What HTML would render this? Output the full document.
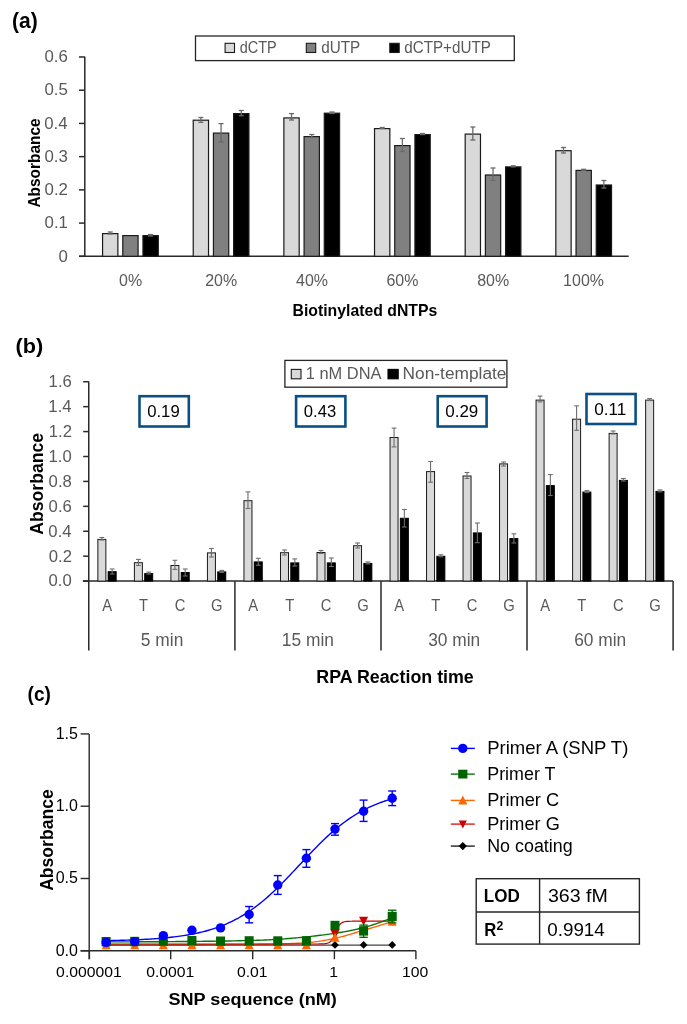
<!DOCTYPE html>
<html><head><meta charset="utf-8"><style>
html,body{margin:0;padding:0;background:#fff;}
svg{display:block;will-change:transform;}
text{font-family:"Liberation Sans", sans-serif;}
</style></head><body>
<svg width="687" height="1024" viewBox="0 0 687 1024">
<rect width="687" height="1024" fill="#fff"/>
<text x="12.05" y="28.33" font-size="21.56" fill="#000" font-weight="bold" textLength="25.69" lengthAdjust="spacingAndGlyphs">(a)</text>
<line x1="84.8" y1="56.8" x2="84.8" y2="256.3" stroke="#2a2a2a" stroke-width="1.5"/>
<line x1="79" y1="256.3" x2="84.8" y2="256.3" stroke="#2a2a2a" stroke-width="1.5"/>
<text x="58.4" y="261.55" font-size="15.82" fill="#595959" textLength="9.36" lengthAdjust="spacingAndGlyphs">0</text>
<line x1="79" y1="223.08" x2="84.8" y2="223.08" stroke="#2a2a2a" stroke-width="1.5"/>
<text x="44.52" y="228.33" font-size="15.82" fill="#595959" textLength="23.4" lengthAdjust="spacingAndGlyphs">0.1</text>
<line x1="79" y1="189.86" x2="84.8" y2="189.86" stroke="#2a2a2a" stroke-width="1.5"/>
<text x="44.55" y="195.11" font-size="15.82" fill="#595959" textLength="23.4" lengthAdjust="spacingAndGlyphs">0.2</text>
<line x1="79" y1="156.64000000000001" x2="84.8" y2="156.64000000000001" stroke="#2a2a2a" stroke-width="1.5"/>
<text x="44.44" y="161.89" font-size="15.82" fill="#595959" textLength="23.4" lengthAdjust="spacingAndGlyphs">0.3</text>
<line x1="79" y1="123.42000000000002" x2="84.8" y2="123.42000000000002" stroke="#2a2a2a" stroke-width="1.5"/>
<text x="44.2" y="128.67" font-size="15.82" fill="#595959" textLength="23.4" lengthAdjust="spacingAndGlyphs">0.4</text>
<line x1="79" y1="90.20000000000002" x2="84.8" y2="90.20000000000002" stroke="#2a2a2a" stroke-width="1.5"/>
<text x="44.41" y="95.45" font-size="15.82" fill="#595959" textLength="23.4" lengthAdjust="spacingAndGlyphs">0.5</text>
<line x1="79" y1="56.98000000000002" x2="84.8" y2="56.98000000000002" stroke="#2a2a2a" stroke-width="1.5"/>
<text x="44.44" y="62.23" font-size="15.82" fill="#595959" textLength="23.4" lengthAdjust="spacingAndGlyphs">0.6</text>
<line x1="79" y1="256.3" x2="628.7" y2="256.3" stroke="#2a2a2a" stroke-width="1.5"/>
<text x="39.74" y="207.58" font-size="16.75" fill="#000" font-weight="bold" textLength="89.31" lengthAdjust="spacingAndGlyphs" transform="rotate(-90 39.74 207.58)">Absorbance</text>
<rect x="102.57" y="233.60" width="15.30" height="22.70" fill="#d9d9d9" stroke="#1a1a1a" stroke-width="1.2"/>
<rect x="122.78" y="235.60" width="15.30" height="20.70" fill="#808080" stroke="#1a1a1a" stroke-width="1.2"/>
<rect x="142.97" y="235.60" width="15.30" height="20.70" fill="#000" stroke="#1a1a1a" stroke-width="1.2"/>
<line x1="110.225" y1="232" x2="110.225" y2="234" stroke="#6a6a6a" stroke-width="1.3"/>
<line x1="107.725" y1="232" x2="112.725" y2="232" stroke="#6a6a6a" stroke-width="1.3"/>
<line x1="107.725" y1="234" x2="112.725" y2="234" stroke="#6a6a6a" stroke-width="1.3"/>
<line x1="150.625" y1="234.5" x2="150.625" y2="236" stroke="#6a6a6a" stroke-width="1.3"/>
<line x1="148.125" y1="234.5" x2="153.125" y2="234.5" stroke="#6a6a6a" stroke-width="1.3"/>
<line x1="148.125" y1="236" x2="153.125" y2="236" stroke="#6a6a6a" stroke-width="1.3"/>
<text x="119.05" y="285.74" font-size="16.67" fill="#595959" textLength="23.09" lengthAdjust="spacingAndGlyphs">0%</text>
<rect x="193.23" y="120.20" width="15.30" height="136.10" fill="#d9d9d9" stroke="#1a1a1a" stroke-width="1.2"/>
<rect x="213.43" y="133.10" width="15.30" height="123.20" fill="#808080" stroke="#1a1a1a" stroke-width="1.2"/>
<rect x="233.63" y="113.60" width="15.30" height="142.70" fill="#000" stroke="#1a1a1a" stroke-width="1.2"/>
<line x1="200.87500000000006" y1="117.5" x2="200.87500000000006" y2="122.3" stroke="#6a6a6a" stroke-width="1.3"/>
<line x1="198.37500000000006" y1="117.5" x2="203.37500000000006" y2="117.5" stroke="#6a6a6a" stroke-width="1.3"/>
<line x1="198.37500000000006" y1="122.3" x2="203.37500000000006" y2="122.3" stroke="#6a6a6a" stroke-width="1.3"/>
<line x1="221.07500000000005" y1="123.6" x2="221.07500000000005" y2="142" stroke="#6a6a6a" stroke-width="1.3"/>
<line x1="218.57500000000005" y1="123.6" x2="223.57500000000005" y2="123.6" stroke="#6a6a6a" stroke-width="1.3"/>
<line x1="218.57500000000005" y1="142" x2="223.57500000000005" y2="142" stroke="#6a6a6a" stroke-width="1.3"/>
<line x1="241.27500000000003" y1="110.5" x2="241.27500000000003" y2="115.7" stroke="#6a6a6a" stroke-width="1.3"/>
<line x1="238.77500000000003" y1="110.5" x2="243.77500000000003" y2="110.5" stroke="#6a6a6a" stroke-width="1.3"/>
<line x1="238.77500000000003" y1="115.7" x2="243.77500000000003" y2="115.7" stroke="#6a6a6a" stroke-width="1.3"/>
<text x="205.17" y="285.74" font-size="16.67" fill="#595959" textLength="31.97" lengthAdjust="spacingAndGlyphs">20%</text>
<rect x="283.88" y="117.90" width="15.30" height="138.40" fill="#d9d9d9" stroke="#1a1a1a" stroke-width="1.2"/>
<rect x="304.08" y="136.60" width="15.30" height="119.70" fill="#808080" stroke="#1a1a1a" stroke-width="1.2"/>
<rect x="324.28" y="113.20" width="15.30" height="143.10" fill="#000" stroke="#1a1a1a" stroke-width="1.2"/>
<line x1="291.5250000000001" y1="113.6" x2="291.5250000000001" y2="120" stroke="#6a6a6a" stroke-width="1.3"/>
<line x1="289.0250000000001" y1="113.6" x2="294.0250000000001" y2="113.6" stroke="#6a6a6a" stroke-width="1.3"/>
<line x1="289.0250000000001" y1="120" x2="294.0250000000001" y2="120" stroke="#6a6a6a" stroke-width="1.3"/>
<line x1="311.7250000000001" y1="134.5" x2="311.7250000000001" y2="137.5" stroke="#6a6a6a" stroke-width="1.3"/>
<line x1="309.2250000000001" y1="134.5" x2="314.2250000000001" y2="134.5" stroke="#6a6a6a" stroke-width="1.3"/>
<line x1="309.2250000000001" y1="137.5" x2="314.2250000000001" y2="137.5" stroke="#6a6a6a" stroke-width="1.3"/>
<line x1="331.92500000000007" y1="112" x2="331.92500000000007" y2="113.5" stroke="#6a6a6a" stroke-width="1.3"/>
<line x1="329.42500000000007" y1="112" x2="334.42500000000007" y2="112" stroke="#6a6a6a" stroke-width="1.3"/>
<line x1="329.42500000000007" y1="113.5" x2="334.42500000000007" y2="113.5" stroke="#6a6a6a" stroke-width="1.3"/>
<text x="296.04" y="285.74" font-size="16.67" fill="#595959" textLength="31.97" lengthAdjust="spacingAndGlyphs">40%</text>
<rect x="374.53" y="128.60" width="15.30" height="127.70" fill="#d9d9d9" stroke="#1a1a1a" stroke-width="1.2"/>
<rect x="394.73" y="145.60" width="15.30" height="110.70" fill="#808080" stroke="#1a1a1a" stroke-width="1.2"/>
<rect x="414.93" y="134.60" width="15.30" height="121.70" fill="#000" stroke="#1a1a1a" stroke-width="1.2"/>
<line x1="382.1750000000001" y1="127.5" x2="382.1750000000001" y2="128.5" stroke="#6a6a6a" stroke-width="1.3"/>
<line x1="379.6750000000001" y1="127.5" x2="384.6750000000001" y2="127.5" stroke="#6a6a6a" stroke-width="1.3"/>
<line x1="379.6750000000001" y1="128.5" x2="384.6750000000001" y2="128.5" stroke="#6a6a6a" stroke-width="1.3"/>
<line x1="402.3750000000001" y1="138.5" x2="402.3750000000001" y2="151.5" stroke="#6a6a6a" stroke-width="1.3"/>
<line x1="399.8750000000001" y1="138.5" x2="404.8750000000001" y2="138.5" stroke="#6a6a6a" stroke-width="1.3"/>
<line x1="399.8750000000001" y1="151.5" x2="404.8750000000001" y2="151.5" stroke="#6a6a6a" stroke-width="1.3"/>
<line x1="422.5750000000001" y1="133.5" x2="422.5750000000001" y2="134.5" stroke="#6a6a6a" stroke-width="1.3"/>
<line x1="420.0750000000001" y1="133.5" x2="425.0750000000001" y2="133.5" stroke="#6a6a6a" stroke-width="1.3"/>
<line x1="420.0750000000001" y1="134.5" x2="425.0750000000001" y2="134.5" stroke="#6a6a6a" stroke-width="1.3"/>
<text x="386.47" y="285.74" font-size="16.67" fill="#595959" textLength="31.97" lengthAdjust="spacingAndGlyphs">60%</text>
<rect x="465.18" y="134.10" width="15.30" height="122.20" fill="#d9d9d9" stroke="#1a1a1a" stroke-width="1.2"/>
<rect x="485.38" y="175.00" width="15.30" height="81.30" fill="#808080" stroke="#1a1a1a" stroke-width="1.2"/>
<rect x="505.58" y="166.90" width="15.30" height="89.40" fill="#000" stroke="#1a1a1a" stroke-width="1.2"/>
<line x1="472.8250000000001" y1="127" x2="472.8250000000001" y2="140" stroke="#6a6a6a" stroke-width="1.3"/>
<line x1="470.3250000000001" y1="127" x2="475.3250000000001" y2="127" stroke="#6a6a6a" stroke-width="1.3"/>
<line x1="470.3250000000001" y1="140" x2="475.3250000000001" y2="140" stroke="#6a6a6a" stroke-width="1.3"/>
<line x1="493.0250000000001" y1="168" x2="493.0250000000001" y2="180.5" stroke="#6a6a6a" stroke-width="1.3"/>
<line x1="490.5250000000001" y1="168" x2="495.5250000000001" y2="168" stroke="#6a6a6a" stroke-width="1.3"/>
<line x1="490.5250000000001" y1="180.5" x2="495.5250000000001" y2="180.5" stroke="#6a6a6a" stroke-width="1.3"/>
<line x1="513.225" y1="165.8" x2="513.225" y2="166.8" stroke="#6a6a6a" stroke-width="1.3"/>
<line x1="510.725" y1="165.8" x2="515.725" y2="165.8" stroke="#6a6a6a" stroke-width="1.3"/>
<line x1="510.725" y1="166.8" x2="515.725" y2="166.8" stroke="#6a6a6a" stroke-width="1.3"/>
<text x="477.18" y="285.74" font-size="16.67" fill="#595959" textLength="31.97" lengthAdjust="spacingAndGlyphs">80%</text>
<rect x="555.83" y="150.70" width="15.30" height="105.60" fill="#d9d9d9" stroke="#1a1a1a" stroke-width="1.2"/>
<rect x="576.03" y="170.40" width="15.30" height="85.90" fill="#808080" stroke="#1a1a1a" stroke-width="1.2"/>
<rect x="596.23" y="185.00" width="15.30" height="71.30" fill="#000" stroke="#1a1a1a" stroke-width="1.2"/>
<line x1="563.475" y1="147.5" x2="563.475" y2="153" stroke="#6a6a6a" stroke-width="1.3"/>
<line x1="560.975" y1="147.5" x2="565.975" y2="147.5" stroke="#6a6a6a" stroke-width="1.3"/>
<line x1="560.975" y1="153" x2="565.975" y2="153" stroke="#6a6a6a" stroke-width="1.3"/>
<line x1="583.6750000000001" y1="169.3" x2="583.6750000000001" y2="170.3" stroke="#6a6a6a" stroke-width="1.3"/>
<line x1="581.1750000000001" y1="169.3" x2="586.1750000000001" y2="169.3" stroke="#6a6a6a" stroke-width="1.3"/>
<line x1="581.1750000000001" y1="170.3" x2="586.1750000000001" y2="170.3" stroke="#6a6a6a" stroke-width="1.3"/>
<line x1="603.8750000000001" y1="180.5" x2="603.8750000000001" y2="188" stroke="#6a6a6a" stroke-width="1.3"/>
<line x1="601.3750000000001" y1="180.5" x2="606.3750000000001" y2="180.5" stroke="#6a6a6a" stroke-width="1.3"/>
<line x1="601.3750000000001" y1="188" x2="606.3750000000001" y2="188" stroke="#6a6a6a" stroke-width="1.3"/>
<text x="563.12" y="285.74" font-size="16.67" fill="#595959" textLength="40.86" lengthAdjust="spacingAndGlyphs">100%</text>
<text x="292.54" y="316.41" font-size="15.88" fill="#000" font-weight="bold" textLength="144.7" lengthAdjust="spacingAndGlyphs">Biotinylated dNTPs</text>
<rect x="195.50" y="36.00" width="318.80" height="24.60" fill="#fff" stroke="#262626" stroke-width="1.3"/>
<rect x="225.10" y="43.30" width="9.40" height="9.20" fill="#d9d9d9" stroke="#1a1a1a" stroke-width="1.1"/>
<text x="239.69" y="53.34" font-size="16.48" fill="#595959" textLength="36.97" lengthAdjust="spacingAndGlyphs">dCTP</text>
<rect x="306.30" y="43.30" width="9.40" height="9.20" fill="#808080" stroke="#1a1a1a" stroke-width="1.1"/>
<text x="321.16" y="53.34" font-size="16.48" fill="#595959" textLength="39.05" lengthAdjust="spacingAndGlyphs">dUTP</text>
<rect x="389.80" y="43.30" width="9.40" height="9.20" fill="#000" stroke="#1a1a1a" stroke-width="1.1"/>
<text x="404.26" y="53.34" font-size="16.48" fill="#595959" textLength="86.54" lengthAdjust="spacingAndGlyphs">dCTP+dUTP</text>
<text x="15.62" y="352.77" font-size="20.38" fill="#000" font-weight="bold" textLength="27.66" lengthAdjust="spacingAndGlyphs">(b)</text>
<line x1="88.75" y1="381.6" x2="88.75" y2="650.4" stroke="#2a2a2a" stroke-width="1.5"/>
<line x1="83.2" y1="581.1" x2="88.75" y2="581.1" stroke="#2a2a2a" stroke-width="1.5"/>
<text x="48.55" y="586.44" font-size="16.24" fill="#595959" textLength="23.2" lengthAdjust="spacingAndGlyphs">0.0</text>
<line x1="83.2" y1="556.1800000000001" x2="88.75" y2="556.1800000000001" stroke="#2a2a2a" stroke-width="1.5"/>
<text x="48.74" y="561.52" font-size="16.24" fill="#595959" textLength="23.2" lengthAdjust="spacingAndGlyphs">0.2</text>
<line x1="83.2" y1="531.26" x2="88.75" y2="531.26" stroke="#2a2a2a" stroke-width="1.5"/>
<text x="48.38" y="536.6" font-size="16.24" fill="#595959" textLength="23.2" lengthAdjust="spacingAndGlyphs">0.4</text>
<line x1="83.2" y1="506.34000000000003" x2="88.75" y2="506.34000000000003" stroke="#2a2a2a" stroke-width="1.5"/>
<text x="48.63" y="511.68" font-size="16.24" fill="#595959" textLength="23.2" lengthAdjust="spacingAndGlyphs">0.6</text>
<line x1="83.2" y1="481.42" x2="88.75" y2="481.42" stroke="#2a2a2a" stroke-width="1.5"/>
<text x="48.62" y="486.76" font-size="16.24" fill="#595959" textLength="23.2" lengthAdjust="spacingAndGlyphs">0.8</text>
<line x1="83.2" y1="456.5" x2="88.75" y2="456.5" stroke="#2a2a2a" stroke-width="1.5"/>
<text x="48.55" y="461.84" font-size="16.24" fill="#595959" textLength="23.2" lengthAdjust="spacingAndGlyphs">1.0</text>
<line x1="83.2" y1="431.58000000000004" x2="88.75" y2="431.58000000000004" stroke="#2a2a2a" stroke-width="1.5"/>
<text x="48.74" y="436.92" font-size="16.24" fill="#595959" textLength="23.2" lengthAdjust="spacingAndGlyphs">1.2</text>
<line x1="83.2" y1="406.66" x2="88.75" y2="406.66" stroke="#2a2a2a" stroke-width="1.5"/>
<text x="48.38" y="412.0" font-size="16.24" fill="#595959" textLength="23.2" lengthAdjust="spacingAndGlyphs">1.4</text>
<line x1="83.2" y1="381.74" x2="88.75" y2="381.74" stroke="#2a2a2a" stroke-width="1.5"/>
<text x="48.63" y="387.08" font-size="16.24" fill="#595959" textLength="23.2" lengthAdjust="spacingAndGlyphs">1.6</text>
<line x1="82.8" y1="581.1" x2="673.1" y2="581.1" stroke="#2a2a2a" stroke-width="1.5"/>
<line x1="234.9" y1="581.1" x2="234.9" y2="650.4" stroke="#2a2a2a" stroke-width="1.5"/>
<line x1="381" y1="581.1" x2="381" y2="650.4" stroke="#2a2a2a" stroke-width="1.5"/>
<line x1="527" y1="581.1" x2="527" y2="650.4" stroke="#2a2a2a" stroke-width="1.5"/>
<line x1="673.1" y1="581.1" x2="673.1" y2="650.4" stroke="#2a2a2a" stroke-width="1.5"/>
<text x="42.71" y="534.74" font-size="19.2" fill="#000" font-weight="bold" textLength="101.84" lengthAdjust="spacingAndGlyphs" transform="rotate(-90 42.71 534.74)">Absorbance</text>
<rect x="97.86" y="539.40" width="8.00" height="41.70" fill="#d9d9d9" stroke="#1a1a1a" stroke-width="1.0"/>
<rect x="108.16" y="571.70" width="8.00" height="9.40" fill="#000" stroke="#000" stroke-width="1.0"/>
<line x1="101.8625" y1="537.5" x2="101.8625" y2="540" stroke="#6e6e6e" stroke-width="1.1"/>
<line x1="99.46249999999999" y1="537.5" x2="104.2625" y2="537.5" stroke="#6e6e6e" stroke-width="1.1"/>
<line x1="99.46249999999999" y1="540" x2="104.2625" y2="540" stroke="#6e6e6e" stroke-width="1.1"/>
<line x1="112.1625" y1="569" x2="112.1625" y2="574" stroke="#6e6e6e" stroke-width="1.1"/>
<line x1="109.76249999999999" y1="569" x2="114.5625" y2="569" stroke="#6e6e6e" stroke-width="1.1"/>
<line x1="109.76249999999999" y1="574" x2="114.5625" y2="574" stroke="#6e6e6e" stroke-width="1.1"/>
<text x="102.13" y="610.5" font-size="15.7" fill="#595959" textLength="9.86" lengthAdjust="spacingAndGlyphs">A</text>
<rect x="134.39" y="562.70" width="8.00" height="18.40" fill="#d9d9d9" stroke="#1a1a1a" stroke-width="1.0"/>
<rect x="144.69" y="573.60" width="8.00" height="7.50" fill="#000" stroke="#000" stroke-width="1.0"/>
<line x1="138.38750000000002" y1="559.4" x2="138.38750000000002" y2="565.5" stroke="#6e6e6e" stroke-width="1.1"/>
<line x1="135.9875" y1="559.4" x2="140.78750000000002" y2="559.4" stroke="#6e6e6e" stroke-width="1.1"/>
<line x1="135.9875" y1="565.5" x2="140.78750000000002" y2="565.5" stroke="#6e6e6e" stroke-width="1.1"/>
<line x1="148.6875" y1="572.1" x2="148.6875" y2="574.1" stroke="#6e6e6e" stroke-width="1.1"/>
<line x1="146.2875" y1="572.1" x2="151.0875" y2="572.1" stroke="#6e6e6e" stroke-width="1.1"/>
<line x1="146.2875" y1="574.1" x2="151.0875" y2="574.1" stroke="#6e6e6e" stroke-width="1.1"/>
<text x="139.08" y="610.5" font-size="15.7" fill="#595959" textLength="9.03" lengthAdjust="spacingAndGlyphs">T</text>
<rect x="170.91" y="565.50" width="8.00" height="15.60" fill="#d9d9d9" stroke="#1a1a1a" stroke-width="1.0"/>
<rect x="181.21" y="572.50" width="8.00" height="8.60" fill="#000" stroke="#000" stroke-width="1.0"/>
<line x1="174.91250000000002" y1="560.3" x2="174.91250000000002" y2="569.4" stroke="#6e6e6e" stroke-width="1.1"/>
<line x1="172.51250000000002" y1="560.3" x2="177.31250000000003" y2="560.3" stroke="#6e6e6e" stroke-width="1.1"/>
<line x1="172.51250000000002" y1="569.4" x2="177.31250000000003" y2="569.4" stroke="#6e6e6e" stroke-width="1.1"/>
<line x1="185.2125" y1="569" x2="185.2125" y2="576" stroke="#6e6e6e" stroke-width="1.1"/>
<line x1="182.8125" y1="569" x2="187.6125" y2="569" stroke="#6e6e6e" stroke-width="1.1"/>
<line x1="182.8125" y1="576" x2="187.6125" y2="576" stroke="#6e6e6e" stroke-width="1.1"/>
<text x="174.68" y="610.5" font-size="15.7" fill="#595959" textLength="10.67" lengthAdjust="spacingAndGlyphs">C</text>
<rect x="207.44" y="552.90" width="8.00" height="28.20" fill="#d9d9d9" stroke="#1a1a1a" stroke-width="1.0"/>
<rect x="217.74" y="571.90" width="8.00" height="9.20" fill="#000" stroke="#000" stroke-width="1.0"/>
<line x1="211.43750000000003" y1="548.5" x2="211.43750000000003" y2="557" stroke="#6e6e6e" stroke-width="1.1"/>
<line x1="209.03750000000002" y1="548.5" x2="213.83750000000003" y2="548.5" stroke="#6e6e6e" stroke-width="1.1"/>
<line x1="209.03750000000002" y1="557" x2="213.83750000000003" y2="557" stroke="#6e6e6e" stroke-width="1.1"/>
<line x1="221.7375" y1="570.4" x2="221.7375" y2="572.4" stroke="#6e6e6e" stroke-width="1.1"/>
<line x1="219.3375" y1="570.4" x2="224.13750000000002" y2="570.4" stroke="#6e6e6e" stroke-width="1.1"/>
<line x1="219.3375" y1="572.4" x2="224.13750000000002" y2="572.4" stroke="#6e6e6e" stroke-width="1.1"/>
<text x="211.07" y="610.5" font-size="15.7" fill="#595959" textLength="11.5" lengthAdjust="spacingAndGlyphs">G</text>
<text x="140.86" y="645.53" font-size="17.57" fill="#595959" textLength="42.42" lengthAdjust="spacingAndGlyphs">5 min</text>
<rect x="243.96" y="500.70" width="8.00" height="80.40" fill="#d9d9d9" stroke="#1a1a1a" stroke-width="1.0"/>
<rect x="254.26" y="561.90" width="8.00" height="19.20" fill="#000" stroke="#000" stroke-width="1.0"/>
<line x1="247.9625" y1="491.9" x2="247.9625" y2="508.5" stroke="#6e6e6e" stroke-width="1.1"/>
<line x1="245.5625" y1="491.9" x2="250.3625" y2="491.9" stroke="#6e6e6e" stroke-width="1.1"/>
<line x1="245.5625" y1="508.5" x2="250.3625" y2="508.5" stroke="#6e6e6e" stroke-width="1.1"/>
<line x1="258.2625" y1="558.3" x2="258.2625" y2="565.3" stroke="#6e6e6e" stroke-width="1.1"/>
<line x1="255.86249999999998" y1="558.3" x2="260.66249999999997" y2="558.3" stroke="#6e6e6e" stroke-width="1.1"/>
<line x1="255.86249999999998" y1="565.3" x2="260.66249999999997" y2="565.3" stroke="#6e6e6e" stroke-width="1.1"/>
<text x="248.23" y="610.5" font-size="15.7" fill="#595959" textLength="9.86" lengthAdjust="spacingAndGlyphs">A</text>
<rect x="280.49" y="552.70" width="8.00" height="28.40" fill="#d9d9d9" stroke="#1a1a1a" stroke-width="1.0"/>
<rect x="290.79" y="562.90" width="8.00" height="18.20" fill="#000" stroke="#000" stroke-width="1.0"/>
<line x1="284.4875" y1="550" x2="284.4875" y2="555" stroke="#6e6e6e" stroke-width="1.1"/>
<line x1="282.08750000000003" y1="550" x2="286.8875" y2="550" stroke="#6e6e6e" stroke-width="1.1"/>
<line x1="282.08750000000003" y1="555" x2="286.8875" y2="555" stroke="#6e6e6e" stroke-width="1.1"/>
<line x1="294.7875" y1="558.9" x2="294.7875" y2="566" stroke="#6e6e6e" stroke-width="1.1"/>
<line x1="292.38750000000005" y1="558.9" x2="297.1875" y2="558.9" stroke="#6e6e6e" stroke-width="1.1"/>
<line x1="292.38750000000005" y1="566" x2="297.1875" y2="566" stroke="#6e6e6e" stroke-width="1.1"/>
<text x="285.18" y="610.5" font-size="15.7" fill="#595959" textLength="9.03" lengthAdjust="spacingAndGlyphs">T</text>
<rect x="317.01" y="552.50" width="8.00" height="28.60" fill="#d9d9d9" stroke="#1a1a1a" stroke-width="1.0"/>
<rect x="327.31" y="562.90" width="8.00" height="18.20" fill="#000" stroke="#000" stroke-width="1.0"/>
<line x1="321.0125" y1="550.5" x2="321.0125" y2="553.5" stroke="#6e6e6e" stroke-width="1.1"/>
<line x1="318.6125" y1="550.5" x2="323.41249999999997" y2="550.5" stroke="#6e6e6e" stroke-width="1.1"/>
<line x1="318.6125" y1="553.5" x2="323.41249999999997" y2="553.5" stroke="#6e6e6e" stroke-width="1.1"/>
<line x1="331.3125" y1="558" x2="331.3125" y2="566.5" stroke="#6e6e6e" stroke-width="1.1"/>
<line x1="328.9125" y1="558" x2="333.7125" y2="558" stroke="#6e6e6e" stroke-width="1.1"/>
<line x1="328.9125" y1="566.5" x2="333.7125" y2="566.5" stroke="#6e6e6e" stroke-width="1.1"/>
<text x="320.78" y="610.5" font-size="15.7" fill="#595959" textLength="10.67" lengthAdjust="spacingAndGlyphs">C</text>
<rect x="353.54" y="545.70" width="8.00" height="35.40" fill="#d9d9d9" stroke="#1a1a1a" stroke-width="1.0"/>
<rect x="363.84" y="563.40" width="8.00" height="17.70" fill="#000" stroke="#000" stroke-width="1.0"/>
<line x1="357.5375" y1="543" x2="357.5375" y2="548" stroke="#6e6e6e" stroke-width="1.1"/>
<line x1="355.13750000000005" y1="543" x2="359.9375" y2="543" stroke="#6e6e6e" stroke-width="1.1"/>
<line x1="355.13750000000005" y1="548" x2="359.9375" y2="548" stroke="#6e6e6e" stroke-width="1.1"/>
<line x1="367.83750000000003" y1="561.9" x2="367.83750000000003" y2="563.9" stroke="#6e6e6e" stroke-width="1.1"/>
<line x1="365.43750000000006" y1="561.9" x2="370.2375" y2="561.9" stroke="#6e6e6e" stroke-width="1.1"/>
<line x1="365.43750000000006" y1="563.9" x2="370.2375" y2="563.9" stroke="#6e6e6e" stroke-width="1.1"/>
<text x="357.17" y="610.5" font-size="15.7" fill="#595959" textLength="11.5" lengthAdjust="spacingAndGlyphs">G</text>
<text x="281.82" y="645.53" font-size="17.57" fill="#595959" textLength="52.07" lengthAdjust="spacingAndGlyphs">15 min</text>
<rect x="390.05" y="437.50" width="8.00" height="143.60" fill="#d9d9d9" stroke="#1a1a1a" stroke-width="1.0"/>
<rect x="400.35" y="518.30" width="8.00" height="62.80" fill="#000" stroke="#000" stroke-width="1.0"/>
<line x1="394.05" y1="428.1" x2="394.05" y2="446.9" stroke="#6e6e6e" stroke-width="1.1"/>
<line x1="391.65000000000003" y1="428.1" x2="396.45" y2="428.1" stroke="#6e6e6e" stroke-width="1.1"/>
<line x1="391.65000000000003" y1="446.9" x2="396.45" y2="446.9" stroke="#6e6e6e" stroke-width="1.1"/>
<line x1="404.35" y1="509.5" x2="404.35" y2="527" stroke="#6e6e6e" stroke-width="1.1"/>
<line x1="401.95000000000005" y1="509.5" x2="406.75" y2="509.5" stroke="#6e6e6e" stroke-width="1.1"/>
<line x1="401.95000000000005" y1="527" x2="406.75" y2="527" stroke="#6e6e6e" stroke-width="1.1"/>
<text x="394.32" y="610.5" font-size="15.7" fill="#595959" textLength="9.86" lengthAdjust="spacingAndGlyphs">A</text>
<rect x="426.55" y="471.60" width="8.00" height="109.50" fill="#d9d9d9" stroke="#1a1a1a" stroke-width="1.0"/>
<rect x="436.85" y="556.30" width="8.00" height="24.80" fill="#000" stroke="#000" stroke-width="1.0"/>
<line x1="430.55" y1="461.5" x2="430.55" y2="482.2" stroke="#6e6e6e" stroke-width="1.1"/>
<line x1="428.15000000000003" y1="461.5" x2="432.95" y2="461.5" stroke="#6e6e6e" stroke-width="1.1"/>
<line x1="428.15000000000003" y1="482.2" x2="432.95" y2="482.2" stroke="#6e6e6e" stroke-width="1.1"/>
<line x1="440.85" y1="554.8" x2="440.85" y2="556.8" stroke="#6e6e6e" stroke-width="1.1"/>
<line x1="438.45000000000005" y1="554.8" x2="443.25" y2="554.8" stroke="#6e6e6e" stroke-width="1.1"/>
<line x1="438.45000000000005" y1="556.8" x2="443.25" y2="556.8" stroke="#6e6e6e" stroke-width="1.1"/>
<text x="431.24" y="610.5" font-size="15.7" fill="#595959" textLength="9.03" lengthAdjust="spacingAndGlyphs">T</text>
<rect x="463.05" y="476.00" width="8.00" height="105.10" fill="#d9d9d9" stroke="#1a1a1a" stroke-width="1.0"/>
<rect x="473.35" y="532.90" width="8.00" height="48.20" fill="#000" stroke="#000" stroke-width="1.0"/>
<line x1="467.05" y1="472.5" x2="467.05" y2="478.5" stroke="#6e6e6e" stroke-width="1.1"/>
<line x1="464.65000000000003" y1="472.5" x2="469.45" y2="472.5" stroke="#6e6e6e" stroke-width="1.1"/>
<line x1="464.65000000000003" y1="478.5" x2="469.45" y2="478.5" stroke="#6e6e6e" stroke-width="1.1"/>
<line x1="477.35" y1="523" x2="477.35" y2="542.7" stroke="#6e6e6e" stroke-width="1.1"/>
<line x1="474.95000000000005" y1="523" x2="479.75" y2="523" stroke="#6e6e6e" stroke-width="1.1"/>
<line x1="474.95000000000005" y1="542.7" x2="479.75" y2="542.7" stroke="#6e6e6e" stroke-width="1.1"/>
<text x="466.82" y="610.5" font-size="15.7" fill="#595959" textLength="10.67" lengthAdjust="spacingAndGlyphs">C</text>
<rect x="499.55" y="463.90" width="8.00" height="117.20" fill="#d9d9d9" stroke="#1a1a1a" stroke-width="1.0"/>
<rect x="509.85" y="538.60" width="8.00" height="42.50" fill="#000" stroke="#000" stroke-width="1.0"/>
<line x1="503.55" y1="462" x2="503.55" y2="466" stroke="#6e6e6e" stroke-width="1.1"/>
<line x1="501.15000000000003" y1="462" x2="505.95" y2="462" stroke="#6e6e6e" stroke-width="1.1"/>
<line x1="501.15000000000003" y1="466" x2="505.95" y2="466" stroke="#6e6e6e" stroke-width="1.1"/>
<line x1="513.85" y1="533.8" x2="513.85" y2="543" stroke="#6e6e6e" stroke-width="1.1"/>
<line x1="511.45000000000005" y1="533.8" x2="516.25" y2="533.8" stroke="#6e6e6e" stroke-width="1.1"/>
<line x1="511.45000000000005" y1="543" x2="516.25" y2="543" stroke="#6e6e6e" stroke-width="1.1"/>
<text x="503.18" y="610.5" font-size="15.7" fill="#595959" textLength="11.5" lengthAdjust="spacingAndGlyphs">G</text>
<text x="428.2" y="645.53" font-size="17.57" fill="#595959" textLength="52.07" lengthAdjust="spacingAndGlyphs">30 min</text>
<rect x="536.06" y="400.10" width="8.00" height="181.00" fill="#d9d9d9" stroke="#1a1a1a" stroke-width="1.0"/>
<rect x="546.36" y="485.60" width="8.00" height="95.50" fill="#000" stroke="#000" stroke-width="1.0"/>
<line x1="540.0625" y1="396.1" x2="540.0625" y2="401.9" stroke="#6e6e6e" stroke-width="1.1"/>
<line x1="537.6625" y1="396.1" x2="542.4625" y2="396.1" stroke="#6e6e6e" stroke-width="1.1"/>
<line x1="537.6625" y1="401.9" x2="542.4625" y2="401.9" stroke="#6e6e6e" stroke-width="1.1"/>
<line x1="550.3625000000001" y1="474.6" x2="550.3625000000001" y2="495.5" stroke="#6e6e6e" stroke-width="1.1"/>
<line x1="547.9625000000001" y1="474.6" x2="552.7625" y2="474.6" stroke="#6e6e6e" stroke-width="1.1"/>
<line x1="547.9625000000001" y1="495.5" x2="552.7625" y2="495.5" stroke="#6e6e6e" stroke-width="1.1"/>
<text x="540.33" y="610.5" font-size="15.7" fill="#595959" textLength="9.86" lengthAdjust="spacingAndGlyphs">A</text>
<rect x="572.59" y="419.20" width="8.00" height="161.90" fill="#d9d9d9" stroke="#1a1a1a" stroke-width="1.0"/>
<rect x="582.89" y="492.10" width="8.00" height="89.00" fill="#000" stroke="#000" stroke-width="1.0"/>
<line x1="576.5875" y1="405.9" x2="576.5875" y2="430.3" stroke="#6e6e6e" stroke-width="1.1"/>
<line x1="574.1875" y1="405.9" x2="578.9875" y2="405.9" stroke="#6e6e6e" stroke-width="1.1"/>
<line x1="574.1875" y1="430.3" x2="578.9875" y2="430.3" stroke="#6e6e6e" stroke-width="1.1"/>
<line x1="586.8875" y1="490.6" x2="586.8875" y2="492.6" stroke="#6e6e6e" stroke-width="1.1"/>
<line x1="584.4875000000001" y1="490.6" x2="589.2875" y2="490.6" stroke="#6e6e6e" stroke-width="1.1"/>
<line x1="584.4875000000001" y1="492.6" x2="589.2875" y2="492.6" stroke="#6e6e6e" stroke-width="1.1"/>
<text x="577.28" y="610.5" font-size="15.7" fill="#595959" textLength="9.03" lengthAdjust="spacingAndGlyphs">T</text>
<rect x="609.11" y="433.40" width="8.00" height="147.70" fill="#d9d9d9" stroke="#1a1a1a" stroke-width="1.0"/>
<rect x="619.41" y="480.40" width="8.00" height="100.70" fill="#000" stroke="#000" stroke-width="1.0"/>
<line x1="613.1125" y1="431" x2="613.1125" y2="434" stroke="#6e6e6e" stroke-width="1.1"/>
<line x1="610.7125" y1="431" x2="615.5124999999999" y2="431" stroke="#6e6e6e" stroke-width="1.1"/>
<line x1="610.7125" y1="434" x2="615.5124999999999" y2="434" stroke="#6e6e6e" stroke-width="1.1"/>
<line x1="623.4125" y1="478.5" x2="623.4125" y2="481" stroke="#6e6e6e" stroke-width="1.1"/>
<line x1="621.0125" y1="478.5" x2="625.8125" y2="478.5" stroke="#6e6e6e" stroke-width="1.1"/>
<line x1="621.0125" y1="481" x2="625.8125" y2="481" stroke="#6e6e6e" stroke-width="1.1"/>
<text x="612.88" y="610.5" font-size="15.7" fill="#595959" textLength="10.67" lengthAdjust="spacingAndGlyphs">C</text>
<rect x="645.64" y="400.10" width="8.00" height="181.00" fill="#d9d9d9" stroke="#1a1a1a" stroke-width="1.0"/>
<rect x="655.94" y="491.40" width="8.00" height="89.70" fill="#000" stroke="#000" stroke-width="1.0"/>
<line x1="649.6374999999999" y1="398.6" x2="649.6374999999999" y2="400.6" stroke="#6e6e6e" stroke-width="1.1"/>
<line x1="647.2375" y1="398.6" x2="652.0374999999999" y2="398.6" stroke="#6e6e6e" stroke-width="1.1"/>
<line x1="647.2375" y1="400.6" x2="652.0374999999999" y2="400.6" stroke="#6e6e6e" stroke-width="1.1"/>
<line x1="659.9375" y1="489.9" x2="659.9375" y2="491.9" stroke="#6e6e6e" stroke-width="1.1"/>
<line x1="657.5375" y1="489.9" x2="662.3375" y2="489.9" stroke="#6e6e6e" stroke-width="1.1"/>
<line x1="657.5375" y1="491.9" x2="662.3375" y2="491.9" stroke="#6e6e6e" stroke-width="1.1"/>
<text x="649.27" y="610.5" font-size="15.7" fill="#595959" textLength="11.5" lengthAdjust="spacingAndGlyphs">G</text>
<text x="574.14" y="645.53" font-size="17.57" fill="#595959" textLength="52.07" lengthAdjust="spacingAndGlyphs">60 min</text>
<text x="316.32" y="682.53" font-size="17.84" fill="#000" font-weight="bold" textLength="157.48" lengthAdjust="spacingAndGlyphs">RPA Reaction time</text>
<rect x="284.90" y="360.40" width="222.00" height="26.80" fill="#fff" stroke="#262626" stroke-width="1.3"/>
<rect x="291.30" y="369.40" width="9.70" height="9.40" fill="#d9d9d9" stroke="#1a1a1a" stroke-width="1.1"/>
<text x="305.75" y="379.0" font-size="16.28" fill="#595959" textLength="75.78" lengthAdjust="spacingAndGlyphs">1 nM DNA</text>
<rect x="388.00" y="369.40" width="10.20" height="9.40" fill="#000" stroke="#000" stroke-width="1.1"/>
<text x="402.58" y="379.13" font-size="15.77" fill="#595959" textLength="103.89" lengthAdjust="spacingAndGlyphs">Non-template</text>
<rect x="139.50" y="396.20" width="49.30" height="30.30" fill="#fff" stroke="#0b4f85" stroke-width="2.6"/>
<text x="147.15" y="416.95" font-size="15.82" fill="#000" textLength="32.55" lengthAdjust="spacingAndGlyphs">0.19</text>
<rect x="296.10" y="396.20" width="49.30" height="30.30" fill="#fff" stroke="#0b4f85" stroke-width="2.6"/>
<text x="303.85" y="416.94" font-size="16.24" fill="#000" textLength="32.38" lengthAdjust="spacingAndGlyphs">0.43</text>
<rect x="437.70" y="396.20" width="48.90" height="30.30" fill="#fff" stroke="#0b4f85" stroke-width="2.6"/>
<text x="445.24" y="416.95" font-size="15.82" fill="#000" textLength="33.07" lengthAdjust="spacingAndGlyphs">0.29</text>
<rect x="586.50" y="394.00" width="49.10" height="30.00" fill="#fff" stroke="#0b4f85" stroke-width="2.6"/>
<text x="594.25" y="415.04" font-size="16.38" fill="#000" textLength="32.15" lengthAdjust="spacingAndGlyphs">0.11</text>
<text x="27.55" y="701.4" font-size="19.74" fill="#000" font-weight="bold" textLength="23.3" lengthAdjust="spacingAndGlyphs">(c)</text>
<line x1="89.2" y1="734" x2="89.2" y2="959.2" stroke="#2a2a2a" stroke-width="1.4"/>
<line x1="80.6" y1="950.8" x2="89.2" y2="950.8" stroke="#2a2a2a" stroke-width="1.4"/>
<text x="55.67" y="955.55" font-size="15.82" fill="#000" textLength="22.25" lengthAdjust="spacingAndGlyphs">0.0</text>
<line x1="80.6" y1="878.5" x2="89.2" y2="878.5" stroke="#2a2a2a" stroke-width="1.4"/>
<text x="55.72" y="883.25" font-size="15.82" fill="#000" textLength="22.25" lengthAdjust="spacingAndGlyphs">0.5</text>
<line x1="80.6" y1="806.1999999999999" x2="89.2" y2="806.1999999999999" stroke="#2a2a2a" stroke-width="1.4"/>
<text x="55.67" y="810.95" font-size="15.82" fill="#000" textLength="22.25" lengthAdjust="spacingAndGlyphs">1.0</text>
<line x1="80.6" y1="733.9" x2="89.2" y2="733.9" stroke="#2a2a2a" stroke-width="1.4"/>
<text x="55.72" y="738.65" font-size="15.82" fill="#000" textLength="22.25" lengthAdjust="spacingAndGlyphs">1.5</text>
<line x1="80.6" y1="950.8" x2="415.9" y2="950.8" stroke="#2a2a2a" stroke-width="1.4"/>
<line x1="89.4" y1="950.8" x2="89.4" y2="959.2" stroke="#2a2a2a" stroke-width="1.4"/>
<text x="56.13" y="977.05" font-size="15.25" fill="#000" textLength="65.68" lengthAdjust="spacingAndGlyphs">0.000001</text>
<line x1="170.7" y1="950.8" x2="170.7" y2="959.2" stroke="#2a2a2a" stroke-width="1.4"/>
<text x="146.19" y="977.05" font-size="15.25" fill="#000" textLength="48.17" lengthAdjust="spacingAndGlyphs">0.0001</text>
<line x1="252.7" y1="950.8" x2="252.7" y2="959.2" stroke="#2a2a2a" stroke-width="1.4"/>
<text x="236.95" y="977.05" font-size="15.25" fill="#000" textLength="30.65" lengthAdjust="spacingAndGlyphs">0.01</text>
<line x1="334.4" y1="950.8" x2="334.4" y2="959.2" stroke="#2a2a2a" stroke-width="1.4"/>
<text x="329.31" y="977.05" font-size="15.25" fill="#000" textLength="8.76" lengthAdjust="spacingAndGlyphs">1</text>
<line x1="415.9" y1="950.8" x2="415.9" y2="959.2" stroke="#2a2a2a" stroke-width="1.4"/>
<text x="401.97" y="977.05" font-size="15.25" fill="#000" textLength="26.28" lengthAdjust="spacingAndGlyphs">100</text>
<text x="168.48" y="1005.39" font-size="17.38" fill="#000" font-weight="bold" textLength="168.42" lengthAdjust="spacingAndGlyphs">SNP sequence (nM)</text>
<text x="53.43" y="890.84" font-size="17.84" fill="#000" font-weight="bold" textLength="101.64" lengthAdjust="spacingAndGlyphs" transform="rotate(-90 53.43 890.84)">Absorbance</text>
<path d="M106.10,945.00 L107.90,945.00 L109.70,945.00 L111.50,944.99 L113.30,944.99 L115.10,944.99 L116.90,944.98 L118.70,944.98 L120.49,944.98 L122.29,944.97 L124.09,944.97 L125.89,944.97 L127.69,944.96 L129.49,944.96 L131.29,944.95 L133.09,944.95 L134.89,944.94 L136.69,944.94 L138.49,944.94 L140.29,944.93 L142.09,944.92 L143.89,944.92 L145.69,944.91 L147.49,944.91 L149.28,944.90 L151.08,944.90 L152.88,944.89 L154.68,944.88 L156.48,944.88 L158.28,944.87 L160.08,944.86 L161.88,944.86 L163.68,944.85 L165.48,944.84 L167.28,944.84 L169.08,944.83 L170.88,944.82 L172.68,944.82 L174.48,944.81 L176.28,944.80 L178.07,944.79 L179.87,944.79 L181.67,944.78 L183.47,944.77 L185.27,944.76 L187.07,944.76 L188.87,944.75 L190.67,944.74 L192.47,944.73 L194.27,944.73 L196.07,944.72 L197.87,944.71 L199.67,944.70 L201.47,944.69 L203.27,944.69 L205.07,944.68 L206.86,944.67 L208.66,944.66 L210.46,944.65 L212.26,944.64 L214.06,944.64 L215.86,944.63 L217.66,944.62 L219.46,944.61 L221.26,944.60 L223.06,944.59 L224.86,944.58 L226.66,944.57 L228.46,944.56 L230.26,944.55 L232.06,944.54 L233.86,944.53 L235.65,944.51 L237.45,944.50 L239.25,944.49 L241.05,944.47 L242.85,944.46 L244.65,944.45 L246.45,944.43 L248.25,944.42 L250.05,944.40 L251.85,944.38 L253.65,944.37 L255.45,944.35 L257.25,944.33 L259.05,944.31 L260.85,944.29 L262.65,944.27 L264.44,944.24 L266.24,944.21 L268.04,944.18 L269.84,944.15 L271.64,944.11 L273.44,944.07 L275.24,944.03 L277.04,943.99 L278.84,943.94 L280.64,943.89 L282.44,943.84 L284.24,943.79 L286.04,943.73 L287.84,943.67 L289.64,943.61 L291.44,943.55 L293.23,943.47 L295.03,943.39 L296.83,943.30 L298.63,943.20 L300.43,943.10 L302.23,942.98 L304.03,942.86 L305.83,942.73 L307.63,942.59 L309.43,942.44 L311.23,942.28 L313.03,942.10 L314.83,941.89 L316.63,941.66 L318.43,941.40 L320.23,941.12 L322.02,940.82 L323.82,940.51 L325.62,940.18 L327.42,939.83 L329.22,939.48 L331.02,939.12 L332.82,938.75 L334.62,938.38 L336.42,938.00 L338.22,937.58 L340.02,937.15 L341.82,936.69 L343.62,936.21 L345.42,935.71 L347.22,935.19 L349.02,934.67 L350.81,934.13 L352.61,933.59 L354.41,933.04 L356.21,932.49 L358.01,931.94 L359.81,931.40 L361.61,930.86 L363.41,930.33 L365.21,929.80 L367.01,929.27 L368.81,928.74 L370.61,928.21 L372.41,927.67 L374.21,927.13 L376.01,926.59 L377.81,926.05 L379.60,925.50 L381.40,924.95 L383.20,924.40 L385.00,923.84 L386.80,923.29 L388.60,922.73 L390.40,922.16 L392.20,921.60" fill="none" stroke="#ff6600" stroke-width="1.4" stroke-linejoin="round"/>
<line x1="106.1" y1="945.1" x2="392.20000000000005" y2="945.1" stroke="#444" stroke-width="1.3"/>
<path d="M106.10,944.00 L107.30,944.00 L108.49,944.00 L109.69,944.00 L110.89,944.00 L112.09,944.00 L113.28,944.00 L114.48,944.00 L115.68,944.00 L116.87,944.00 L118.07,944.00 L119.27,944.00 L120.46,944.00 L121.66,944.00 L122.86,944.00 L124.06,944.00 L125.25,944.00 L126.45,944.00 L127.65,944.00 L128.84,944.00 L130.04,944.00 L131.24,944.00 L132.44,944.00 L133.63,944.00 L134.83,944.00 L136.03,944.00 L137.22,944.00 L138.42,944.00 L139.62,944.00 L140.82,944.00 L142.01,944.00 L143.21,944.00 L144.41,944.00 L145.60,944.00 L146.80,944.00 L148.00,944.00 L149.19,944.00 L150.39,944.00 L151.59,944.00 L152.79,944.00 L153.98,944.00 L155.18,944.00 L156.38,944.00 L157.57,944.00 L158.77,944.00 L159.97,944.00 L161.17,944.00 L162.36,944.00 L163.56,944.00 L164.76,944.00 L165.95,944.00 L167.15,944.00 L168.35,944.00 L169.54,944.00 L170.74,944.00 L171.94,944.00 L173.14,944.00 L174.33,944.00 L175.53,944.00 L176.73,944.00 L177.92,944.00 L179.12,944.00 L180.32,944.00 L181.52,944.00 L182.71,944.00 L183.91,944.00 L185.11,944.00 L186.30,944.00 L187.50,944.00 L188.70,944.00 L189.89,944.00 L191.09,944.00 L192.29,944.00 L193.49,944.00 L194.68,944.00 L195.88,944.00 L197.08,944.00 L198.27,944.00 L199.47,944.00 L200.67,944.00 L201.87,944.00 L203.06,944.00 L204.26,944.00 L205.46,944.00 L206.65,944.00 L207.85,944.00 L209.05,944.00 L210.25,944.00 L211.44,944.00 L212.64,944.00 L213.84,944.00 L215.03,944.00 L216.23,944.00 L217.43,944.00 L218.62,944.00 L219.82,944.00 L221.02,944.00 L222.22,944.00 L223.41,944.00 L224.61,944.00 L225.81,944.00 L227.00,944.00 L228.20,944.00 L229.40,944.00 L230.60,944.00 L231.79,944.00 L232.99,944.00 L234.19,944.00 L235.38,944.00 L236.58,944.00 L237.78,944.00 L238.97,944.00 L240.17,944.00 L241.37,944.00 L242.57,944.00 L243.76,944.00 L244.96,944.00 L246.16,944.00 L247.35,944.00 L248.55,944.00 L249.75,944.00 L250.95,944.00 L252.14,944.00 L253.34,944.00 L254.54,944.00 L255.73,944.00 L256.93,944.00 L258.13,944.00 L259.33,944.00 L260.52,944.00 L261.72,944.00 L262.92,944.00 L264.11,944.00 L265.31,944.00 L266.51,944.00 L267.70,944.00 L268.90,944.00 L270.10,944.00 L271.30,944.00 L272.49,944.00 L273.69,944.00 L274.89,944.00 L276.08,944.00 L277.28,944.00 L278.48,944.00 L279.68,944.00 L280.87,944.00 L282.07,944.00 L283.27,944.00 L284.46,944.00 L285.66,944.00 L286.86,944.00 L288.05,944.00 L289.25,944.00 L290.45,944.00 L291.65,944.00 L292.84,944.00 L294.04,944.00 L295.24,944.00 L296.43,944.00 L297.63,944.00 L298.83,944.00 L300.03,944.00 L301.22,944.00 L302.42,944.00 L303.62,944.00 L304.81,944.00 L306.01,944.00 L307.21,944.00 L308.41,944.00 L309.60,944.00 L310.80,944.00 L312.00,944.00 L313.19,944.00 L314.39,944.00 L315.59,943.99 L316.78,943.99 L317.98,943.98 L319.18,943.97 L320.38,943.96 L321.57,943.93 L322.77,943.89 L323.97,943.81 L325.16,943.70 L326.36,943.50 L327.56,943.20 L328.76,942.71 L329.95,941.94 L331.15,940.80 L332.35,939.17 L333.54,937.01 L334.74,934.39 L335.94,931.56 L337.13,928.86 L338.33,926.56 L339.53,924.79 L340.73,923.52 L341.92,922.67 L343.12,922.11 L344.32,921.76 L345.51,921.55 L346.71,921.41 L347.91,921.33 L349.11,921.28 L350.30,921.25 L351.50,921.23 L352.70,921.22 L353.89,921.21 L355.09,921.21 L356.29,921.20 L357.48,921.20 L358.68,921.20 L359.88,921.20 L361.08,921.20 L362.27,921.20 L363.47,921.20 L364.67,921.20 L365.86,921.20 L367.06,921.20 L368.26,921.20 L369.46,921.20 L370.65,921.20 L371.85,921.20 L373.05,921.20 L374.24,921.20 L375.44,921.20 L376.64,921.20 L377.84,921.20 L379.03,921.20 L380.23,921.20 L381.43,921.20 L382.62,921.20 L383.82,921.20 L385.02,921.20 L386.21,921.20 L387.41,921.20 L388.61,921.20 L389.81,921.20 L391.00,921.20 L392.20,921.20" fill="none" stroke="#c80000" stroke-width="1.2"/>
<path d="M106.10,941.90 L107.90,941.90 L109.70,941.90 L111.50,941.90 L113.30,941.90 L115.10,941.89 L116.90,941.89 L118.70,941.89 L120.49,941.88 L122.29,941.88 L124.09,941.87 L125.89,941.87 L127.69,941.86 L129.49,941.86 L131.29,941.85 L133.09,941.84 L134.89,941.84 L136.69,941.83 L138.49,941.82 L140.29,941.81 L142.09,941.80 L143.89,941.79 L145.69,941.78 L147.49,941.77 L149.28,941.76 L151.08,941.75 L152.88,941.74 L154.68,941.73 L156.48,941.72 L158.28,941.70 L160.08,941.69 L161.88,941.68 L163.68,941.66 L165.48,941.65 L167.28,941.64 L169.08,941.62 L170.88,941.61 L172.68,941.59 L174.48,941.58 L176.28,941.56 L178.07,941.55 L179.87,941.53 L181.67,941.52 L183.47,941.50 L185.27,941.49 L187.07,941.47 L188.87,941.45 L190.67,941.44 L192.47,941.42 L194.27,941.40 L196.07,941.39 L197.87,941.37 L199.67,941.35 L201.47,941.33 L203.27,941.32 L205.07,941.30 L206.86,941.28 L208.66,941.26 L210.46,941.24 L212.26,941.22 L214.06,941.20 L215.86,941.17 L217.66,941.15 L219.46,941.12 L221.26,941.10 L223.06,941.07 L224.86,941.04 L226.66,941.01 L228.46,940.98 L230.26,940.94 L232.06,940.91 L233.86,940.87 L235.65,940.84 L237.45,940.80 L239.25,940.76 L241.05,940.72 L242.85,940.67 L244.65,940.63 L246.45,940.59 L248.25,940.54 L250.05,940.49 L251.85,940.44 L253.65,940.39 L255.45,940.34 L257.25,940.29 L259.05,940.23 L260.85,940.17 L262.65,940.11 L264.44,940.03 L266.24,939.95 L268.04,939.87 L269.84,939.77 L271.64,939.67 L273.44,939.57 L275.24,939.46 L277.04,939.34 L278.84,939.22 L280.64,939.10 L282.44,938.97 L284.24,938.84 L286.04,938.70 L287.84,938.57 L289.64,938.43 L291.44,938.29 L293.23,938.14 L295.03,937.99 L296.83,937.83 L298.63,937.67 L300.43,937.50 L302.23,937.33 L304.03,937.15 L305.83,936.96 L307.63,936.77 L309.43,936.58 L311.23,936.38 L313.03,936.17 L314.83,935.96 L316.63,935.75 L318.43,935.52 L320.23,935.30 L322.02,935.07 L323.82,934.83 L325.62,934.59 L327.42,934.35 L329.22,934.10 L331.02,933.84 L332.82,933.58 L334.62,933.32 L336.42,933.05 L338.22,932.78 L340.02,932.50 L341.82,932.21 L343.62,931.91 L345.42,931.59 L347.22,931.25 L349.02,930.91 L350.81,930.55 L352.61,930.17 L354.41,929.78 L356.21,929.38 L358.01,928.96 L359.81,928.53 L361.61,928.08 L363.41,927.62 L365.21,927.15 L367.01,926.65 L368.81,926.13 L370.61,925.59 L372.41,925.02 L374.21,924.44 L376.01,923.84 L377.81,923.21 L379.60,922.57 L381.40,921.91 L383.20,921.23 L385.00,920.54 L386.80,919.83 L388.60,919.10 L390.40,918.36 L392.20,917.60" fill="none" stroke="#0b740b" stroke-width="1.4" stroke-linejoin="round"/>
<path d="M106.10,940.65 L107.90,940.61 L109.70,940.58 L111.50,940.54 L113.30,940.50 L115.10,940.46 L116.90,940.41 L118.70,940.36 L120.49,940.32 L122.29,940.26 L124.09,940.21 L125.89,940.15 L127.69,940.09 L129.49,940.03 L131.29,939.96 L133.09,939.89 L134.89,939.82 L136.69,939.74 L138.49,939.66 L140.29,939.58 L142.09,939.49 L143.89,939.40 L145.69,939.30 L147.49,939.19 L149.28,939.09 L151.08,938.97 L152.88,938.85 L154.68,938.73 L156.48,938.60 L158.28,938.46 L160.08,938.31 L161.88,938.16 L163.68,938.00 L165.48,937.83 L167.28,937.66 L169.08,937.47 L170.88,937.28 L172.68,937.07 L174.48,936.86 L176.28,936.64 L178.07,936.40 L179.87,936.16 L181.67,935.90 L183.47,935.63 L185.27,935.35 L187.07,935.05 L188.87,934.74 L190.67,934.42 L192.47,934.08 L194.27,933.72 L196.07,933.35 L197.87,932.96 L199.67,932.55 L201.47,932.12 L203.27,931.68 L205.07,931.21 L206.86,930.73 L208.66,930.22 L210.46,929.69 L212.26,929.14 L214.06,928.56 L215.86,927.96 L217.66,927.33 L219.46,926.67 L221.26,925.99 L223.06,925.28 L224.86,924.55 L226.66,923.78 L228.46,922.98 L230.26,922.15 L232.06,921.29 L233.86,920.39 L235.65,919.47 L237.45,918.51 L239.25,917.51 L241.05,916.48 L242.85,915.41 L244.65,914.31 L246.45,913.17 L248.25,911.99 L250.05,910.78 L251.85,909.53 L253.65,908.24 L255.45,906.91 L257.25,905.55 L259.05,904.15 L260.85,902.71 L262.65,901.24 L264.44,899.73 L266.24,898.18 L268.04,896.60 L269.84,894.99 L271.64,893.35 L273.44,891.67 L275.24,889.97 L277.04,888.23 L278.84,886.47 L280.64,884.68 L282.44,882.87 L284.24,881.04 L286.04,879.19 L287.84,877.32 L289.64,875.43 L291.44,873.53 L293.23,871.62 L295.03,869.71 L296.83,867.78 L298.63,865.85 L300.43,863.92 L302.23,861.99 L304.03,860.07 L305.83,858.15 L307.63,856.24 L309.43,854.34 L311.23,852.45 L313.03,850.58 L314.83,848.72 L316.63,846.89 L318.43,845.07 L320.23,843.28 L322.02,841.52 L323.82,839.78 L325.62,838.07 L327.42,836.38 L329.22,834.73 L331.02,833.12 L332.82,831.53 L334.62,829.98 L336.42,828.47 L338.22,826.99 L340.02,825.54 L341.82,824.14 L343.62,822.77 L345.42,821.44 L347.22,820.14 L349.02,818.89 L350.81,817.67 L352.61,816.48 L354.41,815.34 L356.21,814.23 L358.01,813.16 L359.81,812.12 L361.61,811.12 L363.41,810.15 L365.21,809.22 L367.01,808.32 L368.81,807.45 L370.61,806.62 L372.41,805.81 L374.21,805.04 L376.01,804.30 L377.81,803.58 L379.60,802.90 L381.40,802.24 L383.20,801.61 L385.00,801.00 L386.80,800.42 L388.60,799.86 L390.40,799.33 L392.20,798.82" fill="none" stroke="#0000ff" stroke-width="1.4"/>
<path d="M334.98,941.00 L338.88,944.90 L334.98,948.80 L331.08,944.90Z" fill="#000"/>
<path d="M363.59,941.00 L367.49,944.90 L363.59,948.80 L359.69,944.90Z" fill="#000"/>
<path d="M392.20,941.00 L396.10,944.90 L392.20,948.80 L388.30,944.90Z" fill="#000"/>
<path d="M106.10,948.95 L110.60,939.95 L101.60,939.95Z" fill="#cc0000"/>
<path d="M134.71,948.95 L139.21,939.95 L130.21,939.95Z" fill="#cc0000"/>
<path d="M163.32,948.95 L167.82,939.95 L158.82,939.95Z" fill="#cc0000"/>
<path d="M191.93,948.95 L196.43,939.95 L187.43,939.95Z" fill="#cc0000"/>
<path d="M220.54,948.95 L225.04,939.95 L216.04,939.95Z" fill="#cc0000"/>
<path d="M249.15,948.95 L253.65,939.95 L244.65,939.95Z" fill="#cc0000"/>
<path d="M277.76,948.95 L282.26,939.95 L273.26,939.95Z" fill="#cc0000"/>
<path d="M306.37,948.95 L310.87,939.95 L301.87,939.95Z" fill="#cc0000"/>
<path d="M334.98,938.75 L339.48,929.75 L330.48,929.75Z" fill="#cc0000"/>
<path d="M363.59,925.85 L368.09,916.85 L359.09,916.85Z" fill="#cc0000"/>
<path d="M392.20,925.25 L396.70,916.25 L387.70,916.25Z" fill="#cc0000"/>
<path d="M106.10,940.25 L110.60,949.25 L101.60,949.25Z" fill="#ff6600"/>
<path d="M134.71,940.25 L139.21,949.25 L130.21,949.25Z" fill="#ff6600"/>
<path d="M163.32,940.25 L167.82,949.25 L158.82,949.25Z" fill="#ff6600"/>
<path d="M191.93,940.25 L196.43,949.25 L187.43,949.25Z" fill="#ff6600"/>
<path d="M220.54,940.25 L225.04,949.25 L216.04,949.25Z" fill="#ff6600"/>
<path d="M249.15,940.25 L253.65,949.25 L244.65,949.25Z" fill="#ff6600"/>
<path d="M277.76,940.25 L282.26,949.25 L273.26,949.25Z" fill="#ff6600"/>
<path d="M306.37,940.25 L310.87,949.25 L301.87,949.25Z" fill="#ff6600"/>
<path d="M334.98,932.65 L339.48,941.65 L330.48,941.65Z" fill="#ff6600"/>
<path d="M363.59,925.65 L368.09,934.65 L359.09,934.65Z" fill="#ff6600"/>
<path d="M392.20,916.65 L396.70,925.65 L387.70,925.65Z" fill="#ff6600"/>
<rect x="101.60" y="937.00" width="9.00" height="9.40" fill="#006400" stroke="none" stroke-width="1"/>
<rect x="130.21" y="936.80" width="9.00" height="9.40" fill="#006400" stroke="none" stroke-width="1"/>
<rect x="158.82" y="936.50" width="9.00" height="9.40" fill="#006400" stroke="none" stroke-width="1"/>
<rect x="187.43" y="936.00" width="9.00" height="9.40" fill="#006400" stroke="none" stroke-width="1"/>
<rect x="216.04" y="936.50" width="9.00" height="9.40" fill="#006400" stroke="none" stroke-width="1"/>
<rect x="244.65" y="936.20" width="9.00" height="9.40" fill="#006400" stroke="none" stroke-width="1"/>
<rect x="273.26" y="936.30" width="9.00" height="9.40" fill="#006400" stroke="none" stroke-width="1"/>
<rect x="301.87" y="936.20" width="9.00" height="9.40" fill="#006400" stroke="none" stroke-width="1"/>
<rect x="330.48" y="920.80" width="9.00" height="9.40" fill="#006400" stroke="none" stroke-width="1"/>
<line x1="363.59000000000003" y1="925.1" x2="363.59000000000003" y2="937.3" stroke="#006400" stroke-width="1.3"/>
<line x1="359.39000000000004" y1="925.1" x2="367.79" y2="925.1" stroke="#006400" stroke-width="1.3"/>
<line x1="359.39000000000004" y1="937.3" x2="367.79" y2="937.3" stroke="#006400" stroke-width="1.3"/>
<rect x="359.09" y="926.20" width="9.00" height="9.40" fill="#006400" stroke="none" stroke-width="1"/>
<line x1="392.20000000000005" y1="910.2" x2="392.20000000000005" y2="922.9" stroke="#006400" stroke-width="1.3"/>
<line x1="388.00000000000006" y1="910.2" x2="396.40000000000003" y2="910.2" stroke="#006400" stroke-width="1.3"/>
<line x1="388.00000000000006" y1="922.9" x2="396.40000000000003" y2="922.9" stroke="#006400" stroke-width="1.3"/>
<rect x="387.70" y="911.80" width="9.00" height="9.40" fill="#006400" stroke="none" stroke-width="1"/>
<circle cx="106.10" cy="942.40" r="4.7" fill="#0000ff"/>
<circle cx="134.71" cy="941.60" r="4.7" fill="#0000ff"/>
<circle cx="163.32" cy="935.60" r="4.7" fill="#0000ff"/>
<circle cx="191.93" cy="930.30" r="4.7" fill="#0000ff"/>
<circle cx="220.54" cy="927.90" r="4.7" fill="#0000ff"/>
<line x1="249.15" y1="906.5" x2="249.15" y2="922.8" stroke="#0000ff" stroke-width="1.4"/>
<line x1="245.15" y1="906.5" x2="253.15" y2="906.5" stroke="#0000ff" stroke-width="1.4"/>
<line x1="245.15" y1="922.8" x2="253.15" y2="922.8" stroke="#0000ff" stroke-width="1.4"/>
<circle cx="249.15" cy="914.50" r="4.7" fill="#0000ff"/>
<line x1="277.76" y1="875.6" x2="277.76" y2="894.4" stroke="#0000ff" stroke-width="1.4"/>
<line x1="273.76" y1="875.6" x2="281.76" y2="875.6" stroke="#0000ff" stroke-width="1.4"/>
<line x1="273.76" y1="894.4" x2="281.76" y2="894.4" stroke="#0000ff" stroke-width="1.4"/>
<circle cx="277.76" cy="885.00" r="4.7" fill="#0000ff"/>
<line x1="306.37" y1="849.6" x2="306.37" y2="867.3" stroke="#0000ff" stroke-width="1.4"/>
<line x1="302.37" y1="849.6" x2="310.37" y2="849.6" stroke="#0000ff" stroke-width="1.4"/>
<line x1="302.37" y1="867.3" x2="310.37" y2="867.3" stroke="#0000ff" stroke-width="1.4"/>
<circle cx="306.37" cy="858.20" r="4.7" fill="#0000ff"/>
<line x1="334.98" y1="823.6" x2="334.98" y2="835.2" stroke="#0000ff" stroke-width="1.4"/>
<line x1="330.98" y1="823.6" x2="338.98" y2="823.6" stroke="#0000ff" stroke-width="1.4"/>
<line x1="330.98" y1="835.2" x2="338.98" y2="835.2" stroke="#0000ff" stroke-width="1.4"/>
<circle cx="334.98" cy="829.10" r="4.7" fill="#0000ff"/>
<line x1="363.59000000000003" y1="800.1" x2="363.59000000000003" y2="821.4" stroke="#0000ff" stroke-width="1.4"/>
<line x1="359.59000000000003" y1="800.1" x2="367.59000000000003" y2="800.1" stroke="#0000ff" stroke-width="1.4"/>
<line x1="359.59000000000003" y1="821.4" x2="367.59000000000003" y2="821.4" stroke="#0000ff" stroke-width="1.4"/>
<circle cx="363.59" cy="811.20" r="4.7" fill="#0000ff"/>
<line x1="392.20000000000005" y1="791" x2="392.20000000000005" y2="805.6" stroke="#0000ff" stroke-width="1.4"/>
<line x1="388.20000000000005" y1="791" x2="396.20000000000005" y2="791" stroke="#0000ff" stroke-width="1.4"/>
<line x1="388.20000000000005" y1="805.6" x2="396.20000000000005" y2="805.6" stroke="#0000ff" stroke-width="1.4"/>
<circle cx="392.20" cy="798.20" r="4.7" fill="#0000ff"/>
<line x1="450.8" y1="748.4" x2="474.8" y2="748.4" stroke="#0000ff" stroke-width="1.4"/>
<circle cx="462.8" cy="748.4" r="4.7" fill="#0000ff"/>
<text x="487.21" y="753.9" font-size="18.46" fill="#000" textLength="141.11" lengthAdjust="spacingAndGlyphs">Primer A (SNP T)</text>
<line x1="450.8" y1="774.1" x2="474.8" y2="774.1" stroke="#0b740b" stroke-width="1.4"/>
<rect x="458.20" y="769.70" width="9.20" height="8.80" fill="#006400" stroke="none" stroke-width="1"/>
<text x="487.24" y="779.6" font-size="18.46" fill="#000" textLength="68.17" lengthAdjust="spacingAndGlyphs">Primer T</text>
<line x1="450.8" y1="800.4" x2="474.8" y2="800.4" stroke="#ff6600" stroke-width="1.4"/>
<path d="M462.80,795.39 L467.35,804.50 L458.25,804.50Z" fill="#ff6600"/>
<text x="487.2" y="805.9" font-size="18.46" fill="#000" textLength="71.89" lengthAdjust="spacingAndGlyphs">Primer C</text>
<line x1="450.8" y1="824.1" x2="474.8" y2="824.1" stroke="#d42020" stroke-width="1.4"/>
<path d="M462.80,828.56 L466.85,820.46 L458.75,820.46Z" fill="#cc0000"/>
<text x="487.21" y="829.6" font-size="18.46" fill="#000" textLength="72.54" lengthAdjust="spacingAndGlyphs">Primer G</text>
<line x1="450.8" y1="846.1" x2="474.8" y2="846.1" stroke="#222" stroke-width="1.4"/>
<path d="M462.80,842.00 L466.90,846.10 L462.80,850.20 L458.70,846.10Z" fill="#000"/>
<text x="487.23" y="851.6" font-size="18.46" fill="#000" textLength="85.42" lengthAdjust="spacingAndGlyphs">No coating</text>
<rect x="476.20" y="878.70" width="163.20" height="65.40" fill="none" stroke="#262626" stroke-width="1.4"/>
<line x1="476.2" y1="912" x2="639.4" y2="912" stroke="#262626" stroke-width="1.4"/>
<line x1="539.6" y1="878.7" x2="539.6" y2="944.1" stroke="#262626" stroke-width="1.4"/>
<text x="483.76" y="902.03" font-size="17.51" fill="#000" font-weight="bold" textLength="35.95" lengthAdjust="spacingAndGlyphs">LOD</text>
<text x="547.95" y="902.03" font-size="17.45" fill="#000" textLength="59.85" lengthAdjust="spacingAndGlyphs">363 fM</text>
<text x="484.28" y="935.5" font-size="18.31" fill="#000" font-weight="bold" textLength="12.06" lengthAdjust="spacingAndGlyphs">R</text>
<text x="496.38" y="929.8" font-size="12.46" fill="#000" font-weight="bold" textLength="6.82" lengthAdjust="spacingAndGlyphs">2</text>
<text x="547.27" y="935.81" font-size="19.21" fill="#000" textLength="57.48" lengthAdjust="spacingAndGlyphs">0.9914</text>
</svg>
</body></html>
